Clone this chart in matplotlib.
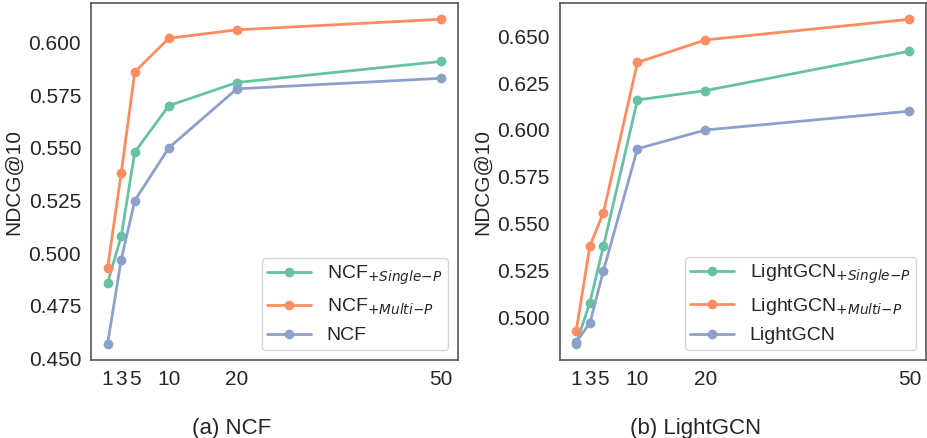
import matplotlib
matplotlib.use('Agg')
import matplotlib.pyplot as plt
import seaborn as sns

sns.set_style('white')
plt.rcParams['font.family'] = ['Liberation Sans', 'DejaVu Sans']

# Number of x values
ks = [1, 3, 5, 10, 20, 50]
xtick_labels = ['1', '3', '5', '10', '20', '50']

# (a) NCF
ncf_single = [0.486, 0.508, 0.548, 0.570, 0.581, 0.591]
ncf_multi = [0.493, 0.538, 0.586, 0.602, 0.606, 0.611]
ncf_base = [0.457, 0.497, 0.525, 0.550, 0.578, 0.583]

# (b) LightGCN
lgcn_single = [0.486, 0.508, 0.538, 0.616, 0.621, 0.642]
lgcn_multi = [0.493, 0.538, 0.556, 0.636, 0.648, 0.659]
lgcn_base = [0.487, 0.497, 0.525, 0.590, 0.600, 0.610]

colors = sns.color_palette('Set2', 3)

fig = plt.figure(figsize=(9.28, 4.38), dpi=100)
ax1 = fig.add_axes([0.098, 0.178, 0.395, 0.815])
ax2 = fig.add_axes([0.603, 0.178, 0.395, 0.815])

panels = [
    (ax1, 'NCF', ncf_single, ncf_multi, ncf_base, [0.450, 0.475, 0.500, 0.525, 0.550, 0.575, 0.600]),
    (ax2, 'LightGCN', lgcn_single, lgcn_multi, lgcn_base, [0.500, 0.525, 0.550, 0.575, 0.600, 0.625, 0.650]),
]

for ax, name, single, multi, base, yticks in panels:
    ax.plot(ks, single, 'o-', color=colors[0], linewidth=2, markersize=6,
            label=name + r'$_{+Single{-}P}$')
    ax.plot(ks, multi, 'o-', color=colors[1], linewidth=2, markersize=6,
            label=name + r'$_{+Multi{-}P}$')
    ax.plot(ks, base, 'o-', color=colors[2], linewidth=2, markersize=6,
            label=name)
    ax.set_xticks(ks)
    ax.set_xticklabels(xtick_labels)
    ax.set_yticks(yticks)
    ax.set_yticklabels([f'{v:.3f}' for v in yticks])
    ax.tick_params(labelsize=15)
    ax.set_ylabel('NDCG@10', fontsize=15)
    for sp in ax.spines.values():
        sp.set_color('#555555')
        sp.set_linewidth(1.2)
    ax.legend(loc='lower right', fontsize=14, handlelength=2.25, borderpad=0.3,
              labelspacing=0.5, handletextpad=0.8)

fig.text(0.25, 0.009, '(a) NCF', ha='center', va='baseline', fontsize=16)
fig.text(0.75, 0.009, '(b) LightGCN', ha='center', va='baseline', fontsize=16)

fig.savefig('out.png', dpi=100)
